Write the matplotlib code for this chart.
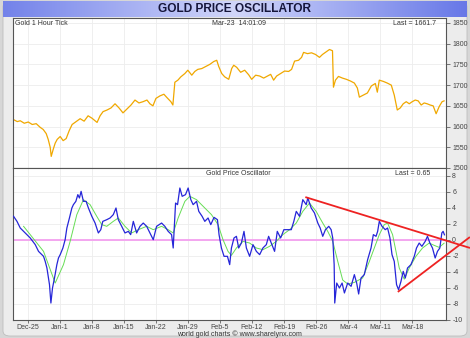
import matplotlib
matplotlib.use("Agg")
import matplotlib.pyplot as plt
import numpy as np
from matplotlib.patches import FancyBboxPatch

plt.rcParams["font.family"] = ["Liberation Sans", "DejaVu Sans"]
plt.rcParams["axes.unicode_minus"] = False

# x positions are trading days counted from the Dec-25 week open
week_pos = [0, 5, 10, 15, 20, 25, 30, 35, 40, 45, 50, 55, 60]
week_labels = ["Dec-25", "Jan-1", "Jan-8", "Jan-15", "Jan-22", "Jan-29", "Feb-5",
               "Feb-12", "Feb-19", "Feb-26", "Mar-4", "Mar-11", "Mar-18"]

price_t = [-2.22, -1.60, -1.14, -0.51, 0.11, 0.73, 1.35, 1.98, 2.44, 2.91, 3.22, 3.53,
           3.69, 4.00, 4.31, 4.62, 5.09, 5.55, 6.02, 6.49, 6.95, 7.57, 8.20, 8.82,
           9.44, 10.06, 10.84, 11.31, 11.77, 12.40, 13.02, 13.64, 14.26, 14.88, 15.66,
           16.13, 16.75, 17.37, 18.00, 18.62, 19.08, 19.55, 20.02, 20.64, 21.26, 21.73,
           22.35, 22.66, 22.97, 23.44, 23.90, 24.53, 24.99, 25.61, 26.08, 26.55, 27.17,
           27.79, 28.41, 29.04, 29.50, 29.81, 30.28, 30.74, 31.37, 31.83, 32.15, 32.61,
           33.23, 33.86, 34.48, 34.95, 35.57, 36.19, 36.82, 37.44, 37.91, 38.37, 38.84,
           39.46, 40.08, 40.71, 41.17, 41.64, 42.26, 42.73, 43.04, 43.66, 44.28, 44.90,
           45.52, 45.99, 46.61, 47.08, 47.55, 47.70, 48.01, 48.48, 49.10, 49.72, 50.34,
           50.96, 51.43, 51.74, 52.36, 52.99, 53.61, 54.23, 54.54, 54.85, 55.47, 56.09,
           56.72, 57.18, 57.65, 58.12, 58.58, 59.05, 59.52, 59.98, 60.45, 60.91, 61.38,
           61.85, 62.31, 62.78, 63.25, 63.71, 64.18, 64.64, 64.95]
price = [1617, 1612, 1614, 1608, 1611, 1605, 1607, 1598, 1593, 1583, 1569, 1550,
         1528, 1545, 1560, 1569, 1576, 1566, 1571, 1590, 1605, 1612, 1619, 1613,
         1626, 1620, 1610, 1626, 1636, 1640, 1645, 1655, 1645, 1633, 1645,
         1652, 1664, 1657, 1660, 1664, 1655, 1650, 1668, 1674, 1678, 1670,
         1660, 1652, 1707, 1712, 1720, 1728, 1736, 1724, 1733, 1738, 1740,
         1745, 1750, 1757, 1760, 1745, 1728, 1720, 1714, 1740, 1748, 1743,
         1731, 1736, 1725, 1714, 1724, 1722, 1717, 1722, 1726, 1712, 1722,
         1728, 1734, 1733, 1738, 1758, 1760, 1767, 1779, 1776, 1778, 1774,
         1767, 1774, 1781, 1786, 1783, 1695, 1712, 1721, 1717, 1714, 1710,
         1705, 1693, 1671, 1676, 1681, 1698, 1704, 1683, 1712, 1709, 1705,
         1700, 1676, 1640, 1645, 1655, 1660, 1655, 1660, 1664, 1662, 1652,
         1657, 1655, 1652, 1650, 1631, 1648, 1660, 1662]

osc_t = [-2.18, -1.65, -1.14, -0.36, 0.42, 1.20, 1.71, 2.49, 2.75, 3.02, 3.27, 3.42,
         3.64, 3.89, 4.20, 4.57, 4.82, 5.09, 5.51, 5.86, 6.13, 6.53, 6.91, 7.15, 7.53,
         7.84, 8.09, 8.35, 8.71, 9.13, 9.49, 10.02, 10.53, 11.04, 11.42, 11.73, 12.35,
         12.86, 13.37, 13.79, 14.15, 14.68, 15.19, 15.71, 16.08, 16.49, 17.01, 17.53,
         18.04, 18.57, 19.08, 19.60, 20.12, 20.90, 21.41, 21.93, 22.46, 22.71, 23.08,
         23.39, 23.75, 24.11, 24.63, 25.04, 25.46, 25.82, 26.35, 26.70, 27.22, 27.64,
         28.15, 28.57, 29.08, 29.61, 29.86, 30.23, 30.64, 31.17, 31.52, 31.79, 32.19,
         32.57, 32.92, 33.34, 33.75, 34.12, 34.63, 35.15, 35.68, 36.19, 36.70, 37.23,
         37.59, 38.01, 38.52, 38.94, 39.46, 39.97, 40.50, 41.12, 41.52, 41.90, 42.41,
         42.92, 43.45, 43.70, 44.23, 44.74, 45.26, 45.63, 46.03, 46.45, 46.97, 47.34,
         47.59, 47.81, 47.90, 48.21, 48.63, 49.05, 49.41, 49.92, 50.45, 50.96, 51.32,
         51.63, 52.00, 52.51, 53.03, 53.56, 53.92, 54.34, 54.59, 54.85, 55.27, 55.78,
         56.14, 56.51, 56.83, 57.18, 57.54, 57.85, 58.23, 58.58, 58.90, 59.25, 59.78,
         60.30, 60.65, 61.07, 61.49, 62.01, 62.36, 62.74, 63.14, 63.56, 63.92, 64.29,
         64.60, 64.80, 65.01]
osc = [2.96, 2.33, 1.5, 0.88, 0.25, -0.58, -1.42, -2.04, -2.67, -3.5, -4.75, -5.58,
       -7.88, -6.0, -4.75, -3.08, -2.25, -1.83, -1.0, 0.04, 1.5, 2.75, 4.0, 4.42, 4.83,
       5.67, 5.25, 6.08, 4.83, 4.83, 4.0, 2.96, 2.12, 0.88, 1.29, 2.33, 2.54,
       2.75, 3.17, 4.0, 2.54, 1.71, 0.88, 1.08, 0.67, 2.33, 0.88, 1.71,
       2.12, 1.71, 0.88, 0.04, 1.71, 2.12, 1.71, 1.08, 0.67, -1.0, 4.62,
       4.42, 6.5, 5.46, 5.67, 6.5, 5.04, 4.42, 4.83, 3.58, 2.96, 2.33,
       2.75, 1.92, 2.83, 2.54, 0.67, -1.0, -2.04, -2.04, -3.08, -1.0, 0.25,
       0.46, -1.0, -0.38, 1.08, -1.0, -2.04, -0.58, -1.42, -1.83, -1.0, -0.58,
       0.46, -0.38, -1.42, 1.08, 0.25, 1.29, 1.29, 1.29, 2.33, 3.58, 2.96,
       5.04, 4.42, 5.25, 4.0, 3.38, 2.12, 1.5, 0.46, 1.29, 1.71, 1.29,
       0.25, -3.08, -7.88, -5.38, -6.0, -5.38, -6.62, -5.38, -5.79, -4.33, -5.38,
       -6.75, -4.75, -4.33, -2.46, -1.0, 0.67, 0.46, 1.08, 2.33, 1.71, 1.29,
       1.5, 0.25, -1.83, -2.67, -5.58, -6.21, -5.17, -3.92, -4.75, -3.5, -3.08,
       -2.04, -1.0, -0.38, -0.79, -0.17, 0.46, -0.38, -1.0, -2.25, -1.42, -1.0,
       0.88, 1.08, 0.65]

signal_t = [-0.62, 2.49, 4.31, 5.60, 6.64, 7.68, 8.71, 9.75, 10.79, 11.57, 12.35, 13.37,
            14.15, 15.19, 16.24, 17.26, 18.57, 19.60, 20.90, 21.93, 22.71, 23.48, 24.53,
            25.30, 26.35, 27.64, 28.68, 29.70, 30.48, 31.26, 31.79, 32.57, 33.59, 34.63,
            35.68, 36.70, 37.74, 38.78, 39.81, 40.86, 41.90, 42.92, 43.96, 45.00, 46.03,
            46.81, 47.59, 48.37, 49.14, 49.92, 50.96, 52.25, 53.30, 54.07, 54.85, 55.62,
            56.14, 56.92, 57.45, 57.96, 58.74, 59.52, 60.56, 61.59, 62.63, 63.41, 64.18,
            64.95]
signal = [1.71, -1.42, -5.38, -3.08, -0.17, 3.17, 5.04, 4.42, 2.96, 1.92, 1.71, 2.33,
          2.75, 1.71, 0.88, 1.29, 1.71, 1.29, 1.71, 1.29, 0.88, 2.75, 4.83,
          5.46, 5.04, 4.0, 3.17, 1.92, 0.04, -1.42, -1.92, -1.0, -0.17, -0.38,
          -1.0, -1.21, -0.79, -0.17, 0.67, 1.29, 2.12, 3.58, 4.62, 3.58, 2.12,
          1.08, -0.17, -2.67, -5.0, -5.5, -5.3, -4.75, -2.67, -1.0, 0.67, 1.92,
          2.12, 0.67, -1.42, -3.5, -4.9, -3.5, -2.04, -1.0, -0.38, -0.67, -0.92,
          -0.4]

# hand-drawn trend lines on the oscillator (start/end in t, value)
upper_trend_t = [43.45, 68.86]
upper_trend = [5.33, -0.96]
lower_trend_t = [57.85, 68.86]
lower_trend = [-6.42, 0.3]

W, H = 470, 338
fig = plt.figure(figsize=(W / 100, H / 100), dpi=100)
fig.patch.set_facecolor("#d6d6d6")

# light panel behind everything
bg = FancyBboxPatch((3 / W, 2 / H), 464 / W, 334 / H, boxstyle="round,pad=0,rounding_size=0.015",
                    transform=fig.transFigure, facecolor="#ececec", edgecolor="#bdbdbd",
                    lw=0.6, zorder=-10)
fig.patches.append(bg)

# title bar with a blue gradient
tax = fig.add_axes([3 / W, 1 - 17 / H, 464 / W, 16 / H])
grad = np.interp(np.linspace(0, 1, 300), [0, 0.5, 1], [0.2, 1, 0.1])
c_lo = np.array([0.36, 0.43, 0.90])
c_hi = np.array([0.82, 0.84, 0.98])
img = c_lo + (c_hi - c_lo) * grad[:, None]
tax.imshow(img[None, :, :], aspect="auto", extent=[0, 1, 0, 1])
tax.set_axis_off()
tax.text(0.5, 0.47, "GOLD PRICE OSCILLATOR", ha="center", va="center",
         fontsize=8.6, fontweight="bold", color="#15153a")

left, right = 13 / W, 446 / W
ax1 = fig.add_axes([left, 1 - 168 / H, right - left, 150 / H])
ax2 = fig.add_axes([left, 1 - 320 / H, right - left, 152 / H])

xlim = (-2.27, 65.25)
for ax in (ax1, ax2):
    ax.set_facecolor("white")
    ax.set_xlim(*xlim)
    ax.set_xticks(week_pos)
    ax.grid(True, color="#ededed", lw=0.6)
    ax.set_axisbelow(True)
    ax.yaxis.tick_right()
    ax.tick_params(axis="y", labelsize=5, colors="#444444", length=3, width=0.5, pad=1.5)
    ax.tick_params(axis="x", labelsize=5, colors="#444444", length=2, width=0.5, pad=0.8)
    for s in ax.spines.values():
        s.set_color("#555555")
        s.set_linewidth(0.8)

ax1.tick_params(axis="x", length=0, labelbottom=False)
ax2.set_xticklabels(week_labels)

# gold price
ax1.plot(price_t, price, color="#f0a800", lw=0.9)
ax1.set_ylim(1500, 1862)
ax1.set_yticks(np.arange(1500, 1851, 50))
ax1.text(0.004, 0.985, "Gold 1 Hour Tick", transform=ax1.transAxes, ha="left", va="top",
         fontsize=5, color="#333333")
ax1.text(0.521, 0.985, "Mar-23  14:01:09", transform=ax1.transAxes, ha="center", va="top",
         fontsize=5, color="#333333")
ax1.text(0.978, 0.985, "Last = 1661.7", transform=ax1.transAxes, ha="right", va="top",
         fontsize=5, color="#333333")

# oscillator
ax2.axhline(0, color="#f4a6f0", lw=1.4, zorder=1)
ax2.plot(signal_t, signal, color="#66dd55", lw=0.7, zorder=2)
ax2.plot(osc_t, osc, color="#2626d8", lw=0.9, zorder=3)
ax2.plot(upper_trend_t, upper_trend, color="#ee2222", lw=1.3, clip_on=False, zorder=4)
ax2.plot(lower_trend_t, lower_trend, color="#ee2222", lw=1.3, clip_on=False, zorder=4)
ax2.set_ylim(-10, 9)
ax2.set_yticks(np.arange(-10, 9, 2))
ax2.text(0.521, 0.99, "Gold Price Oscillator", transform=ax2.transAxes, ha="center", va="top",
         fontsize=5, color="#333333")
ax2.text(0.963, 0.99, "Last = 0.65", transform=ax2.transAxes, ha="right", va="top",
         fontsize=5, color="#333333")

fig.text(239 / W, 1 - 334 / H, "world gold charts \u00a9 www.sharelynx.com", ha="center",
         va="center", fontsize=5, color="#333333")

fig.savefig("out.png", dpi=100, facecolor=fig.get_facecolor())
